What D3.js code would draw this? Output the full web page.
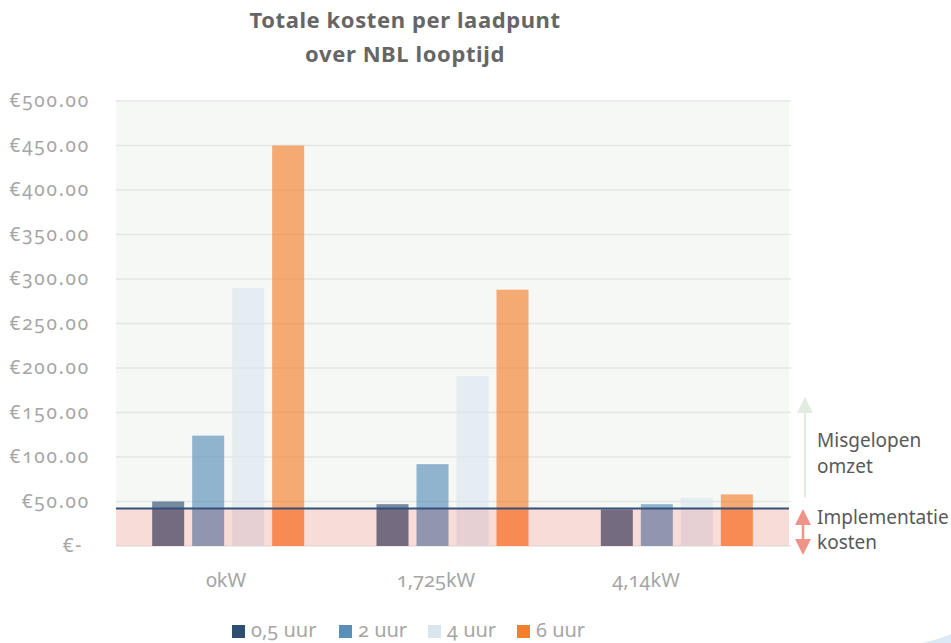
<!DOCTYPE html>
<html lang="nl">
<head>
<meta charset="utf-8">
<script src="https://cdn.jsdelivr.net/npm/d3@7"></script>
<style>
  body { margin: 0; background: #fff; }
  svg text { font-family: "Noto Sans", "Lato", sans-serif; font-variant-numeric: oldstyle-nums; }
  .tick-y { fill: #a6a6a6; font-size: 19px; letter-spacing: 1.8px; }
  .tick-x { fill: #a6a6a6; font-size: 20px; }
  .title { fill: #666; font-size: 22px; font-weight: bold; letter-spacing: 0.6px; }
  .note { fill: #595959; font-size: 19px; }
  .legend text { fill: #a6a6a6; font-size: 20px; }
</style>
</head>
<body>
<div id="chart"></div>
<script>
"use strict"
// --- data ---
var categorieen = ["0kW", "1,725kW", "4,14kW"];
var reeksen = ["0,5 uur", "2 uur", "4 uur", "6 uur"];
var waarden05 = [50, 47, 41];
var waarden2 = [124, 92, 47];
var waarden4 = [290, 191, 54];
var waarden6 = [450, 288, 58];
var implementatieKosten = 42;
var yTicks = [0, 50, 100, 150, 200, 250, 300, 350, 400, 450, 500];
var yTickLabels = ["€-\u00a0", "€50.00", "€100.00", "€150.00", "€200.00", "€250.00",
                   "€300.00", "€350.00", "€400.00", "€450.00", "€500.00"];
var titel = ["Totale kosten per laadpunt", "over NBL looptijd"];

var kleuren = ["#2f4f72", "#5a8fb9", "#dae6ee", "#f57e2d"];

var dados = [];
[waarden05, waarden2, waarden4, waarden6].forEach(function (rij, s) {
  rij.forEach(function (v, c) {
    dados.push({ cat: categorieen[c], reeks: reeksen[s], waarde: v });
  });
});

var larguraSVG = 951, alturaSVG = 643;
var margin = { top: 101, right: 162, bottom: 97, left: 116 };
var larguraVis = larguraSVG - margin.left - margin.right,   // 673
    alturaVis = alturaSVG - margin.top - margin.bottom;      // 445

var svg = d3.select("#chart").append("svg")
  .attr("width", larguraSVG).attr("height", alturaSVG);

var x = d3.scaleBand().domain(categorieen).range([margin.left, margin.left + larguraVis]);
var x1 = d3.scaleBand().domain(reeksen).range([0, 152]).paddingInner(0.2).paddingOuter(0);
// category labels sit a little left of their groups in the original
var xLabel = d3.scaleBand().domain(categorieen).range([121, 751]);
var y = d3.scaleLinear().domain([0, 500]).range([margin.top + alturaVis, margin.top]);
var kleur = d3.scaleOrdinal().domain(reeksen).range(kleuren);
var groepOffset = (x.bandwidth() - 152) / 2;

// plot background
svg.append("rect")
  .attr("x", margin.left).attr("y", margin.top - 1)
  .attr("width", larguraVis).attr("height", alturaVis + 1)
  .attr("fill", "#f5f8f5");

// gridlines
svg.append("g").selectAll("line")
  .data(yTicks)
  .enter().append("line")
    .attr("x1", margin.left).attr("x2", margin.left + larguraVis + 2)
    .attr("y1", d => y(d)).attr("y2", d => y(d))
    .attr("stroke", "#e4e7e4").attr("stroke-width", 1.6);

// clip paths above / below implementation line
var defs = svg.append("defs");
defs.append("clipPath").attr("id", "boven").append("rect")
  .attr("x", 0).attr("y", 0).attr("width", larguraSVG).attr("height", y(implementatieKosten));
defs.append("clipPath").attr("id", "onder").append("rect")
  .attr("x", 0).attr("y", y(implementatieKosten)).attr("width", larguraSVG).attr("height", alturaSVG);

function tekenBalken(clip, opac) {
  svg.append("g").attr("clip-path", "url(#" + clip + ")")
    .selectAll("rect")
    .data(dados)
    .enter().append("rect")
      .attr("x", d => x(d.cat) + groepOffset + x1(d.reeks))
      .attr("width", x1.bandwidth())
      .attr("y", d => y(d.waarde))
      .attr("height", d => y(0) - y(d.waarde))
      .attr("fill", d => kleur(d.reeks))
      .attr("opacity", opac);
}
tekenBalken("boven", 0.65);
tekenBalken("onder", 1);

// pink band (implementation costs)
svg.append("rect")
  .attr("x", margin.left).attr("y", y(implementatieKosten))
  .attr("width", larguraVis).attr("height", y(0) - y(implementatieKosten))
  .attr("fill", "rgb(255,164,158)").attr("fill-opacity", 0.335);

// implementation line
svg.append("line")
  .attr("x1", margin.left).attr("x2", margin.left + larguraVis)
  .attr("y1", y(implementatieKosten)).attr("y2", y(implementatieKosten))
  .attr("stroke", "#34507a").attr("stroke-width", 2);

// y axis labels
svg.append("g").selectAll("text")
  .data(yTicks)
  .enter().append("text")
    .attr("class", "tick-y")
    .attr("x", 90).attr("y", d => y(d) + 6)
    .attr("text-anchor", "end")
    .text((d, i) => yTickLabels[i]);

// x axis labels
svg.append("g").selectAll("text")
  .data(categorieen)
  .enter().append("text")
    .attr("class", "tick-x")
    .attr("x", d => xLabel(d) + xLabel.bandwidth() / 2)
    .attr("y", 587)
    .attr("text-anchor", "middle")
    .text(d => d);

// title
svg.append("text").attr("class", "title")
  .attr("x", 405).attr("y", 28).attr("text-anchor", "middle")
  .selectAll("tspan").data(titel).enter().append("tspan")
    .attr("x", 405).attr("dy", (d, i) => i ? 34 : 0)
    .text(d => d);

// annotations right
var groen = "#e1ede0", rood = "#f0948a";
var ax = 805;
svg.append("line").attr("x1", ax).attr("x2", ax)
  .attr("y1", y(implementatieKosten) - 11).attr("y2", 412)
  .attr("stroke", groen).attr("stroke-width", 2);
svg.append("path")
  .attr("d", "M" + ax + ",397L" + (ax + 8) + ",413L" + (ax - 8) + ",413Z")
  .attr("fill", groen);

var rx = 803;
svg.append("line").attr("x1", rx).attr("x2", rx)
  .attr("y1", 522).attr("y2", 542)
  .attr("stroke", rood).attr("stroke-width", 2.5);
svg.append("path")
  .attr("d", "M" + rx + ",509L" + (rx + 8) + ",525L" + (rx - 8) + ",525Z")
  .attr("fill", rood);
svg.append("path")
  .attr("d", "M" + rx + ",555L" + (rx + 8) + ",539L" + (rx - 8) + ",539Z")
  .attr("fill", rood);

[["Misgelopen", 447], ["omzet", 473], ["Implementatie", 524], ["kosten", 549]]
  .forEach(function (t) {
    svg.append("text").attr("class", "note")
      .attr("x", 817).attr("y", t[1]).text(t[0]);
  });

// legend
var legendX = [232, 339, 428, 517];
var legend = svg.append("g").attr("class", "legend");
reeksen.forEach(function (r, i) {
  legend.append("rect")
    .attr("x", legendX[i]).attr("y", 625)
    .attr("width", 13).attr("height", 13)
    .attr("fill", kleur(r));
  legend.append("text")
    .attr("x", legendX[i] + 19).attr("y", 637)
    .text(r);
});

// decorative corner
svg.append("path")
  .attr("d", "M922,643 C935,640 944,637 951,634 L951,643Z")
  .attr("fill", "#dce9f6");
</script>
</body>
</html>
